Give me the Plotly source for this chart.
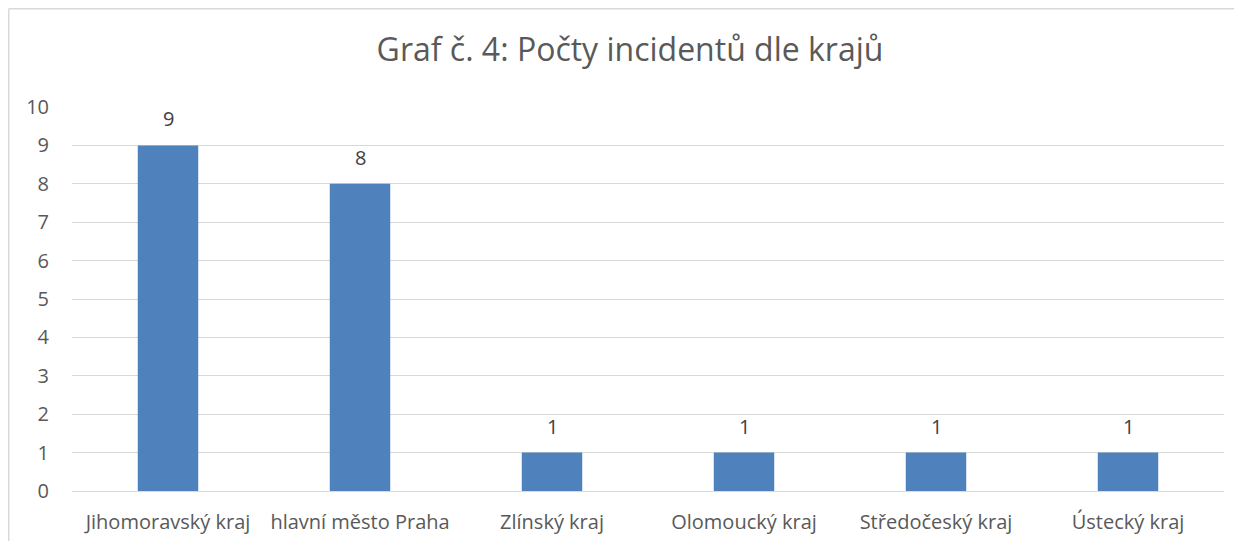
import plotly.graph_objects as go

categories = ["Jihomoravský kraj", "hlavní město Praha", "Zlínský kraj", "Olomoucký kraj", "Středočeský kraj", "Ústecký kraj"]
values = [9, 8, 1, 1, 1, 1]
title_text = "Graf č. 4: Počty incidentů dle krajů"

# page has an 8px body margin; figure sits at (8, 8)
OFF = 8
W, H = 1226, 533
L = 72 - OFF
R = W - (1224 - OFF)
T = 107 - OFF
B = H - (491 - OFF)
pw = W - L - R
ph = H - T - B

FONT = "Open Sans, sans-serif"

fig = go.Figure(go.Bar(
    x=categories, y=values,
    marker=dict(color="#4f81bd", line=dict(width=0)),
    width=0.315,
    cliponaxis=False,
))

for c, v in zip(categories, values):
    fig.add_annotation(x=c, y=v, text=str(v), showarrow=False,
                       yanchor="bottom", yshift=11,
                       font=dict(family=FONT, size=20, color="#404040"))

fig.update_layout(
    width=W, height=H,
    margin=dict(l=L, r=R, t=T, b=B, autoexpand=False),
    paper_bgcolor="white", plot_bgcolor="white",
    showlegend=False,
    font=dict(family=FONT, color="#595959"),
    title=dict(text=title_text, x=(630 - OFF) / W, xref="container", xanchor="center",
               y=1 - (50 - OFF) / H, yref="container", yanchor="middle",
               font=dict(size=32, color="#595959", family=FONT)),
    xaxis=dict(showgrid=False, showline=False, ticks="", ticklabelstandoff=17,
               automargin=False, tickfont=dict(size=20, color="#595959")),
    yaxis=dict(range=[0, 10], dtick=1, showgrid=True, gridcolor="#d9d9d9", gridwidth=1,
               zeroline=True, zerolinecolor="#d9d9d9", zerolinewidth=1,
               showline=False, ticks="", ticklabelstandoff=22, automargin=False,
               tickfont=dict(size=20, color="#595959")),
    shapes=[
        dict(type="line", xref="paper", yref="paper",
             x0=(0.75 - L) / pw, x1=(W + 5 - L) / pw,
             y0=(H - B - 0.75) / ph, y1=(H - B - 0.75) / ph,
             line=dict(color="#d9d9d9", width=1.5)),
        dict(type="line", xref="paper", yref="paper",
             x0=(0.75 - L) / pw, x1=(0.75 - L) / pw,
             y0=(H - B - 0.75) / ph, y1=(-B - 5) / ph,
             line=dict(color="#d9d9d9", width=1.5)),
    ],
)

fig.write_html("out.html")
